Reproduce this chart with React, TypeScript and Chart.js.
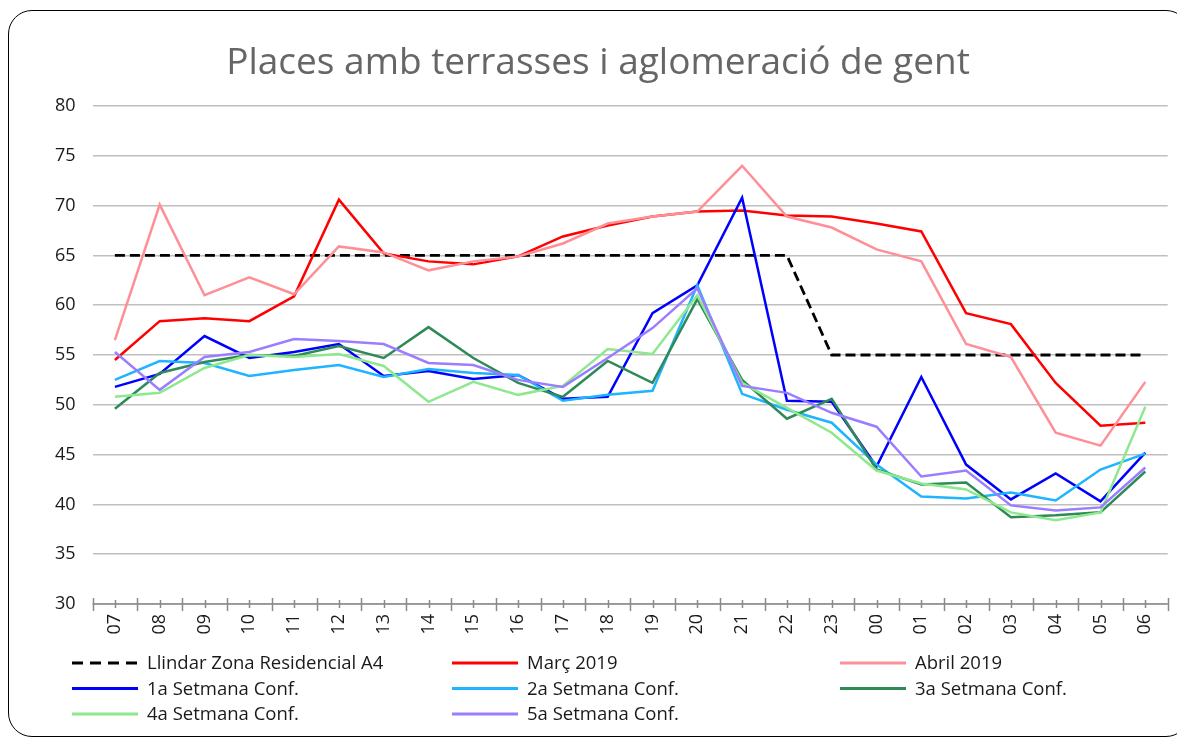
import React, { useEffect, useRef } from "react";
import { Chart, registerables } from "chart.js";

Chart.register(...registerables);

const hours = ["07", "08", "09", "10", "11", "12", "13", "14", "15", "16", "17", "18", "19", "20", "21", "22", "23", "00", "01", "02", "03", "04", "05", "06"];

const llindar = [65, 65, 65, 65, 65, 65, 65, 65, 65, 65, 65, 65, 65, 65, 65, 65, 55, 55, 55, 55, 55, 55, 55, 55];
const marc2019 = [54.5, 58.4, 58.7, 58.4, 60.9, 70.6, 65.2, 64.4, 64.1, 64.9, 66.9, 68.0, 68.9, 69.4, 69.5, 69.0, 68.9, 68.2, 67.4, 59.2, 58.1, 52.2, 47.9, 48.2];
const abril2019 = [56.5, 70.1, 61.0, 62.8, 61.1, 65.9, 65.3, 63.5, 64.4, 64.9, 66.2, 68.2, 68.9, 69.4, 74.0, 68.9, 67.8, 65.6, 64.4, 56.1, 54.8, 47.2, 45.9, 52.3];
const setmana1 = [51.8, 53.1, 56.9, 54.7, 55.3, 56.1, 52.9, 53.4, 52.6, 53.0, 50.6, 50.8, 59.2, 62.0, 70.8, 50.4, 50.3, 43.8, 52.8, 44.0, 40.5, 43.1, 40.3, 45.2];
const setmana2 = [52.5, 54.4, 54.2, 52.9, 53.5, 54.0, 52.8, 53.6, 53.2, 53.0, 50.4, 51.0, 51.4, 62.0, 51.1, 49.5, 48.2, 44.0, 40.8, 40.6, 41.2, 40.4, 43.5, 45.1];
const setmana3 = [49.6, 53.2, 54.3, 55.0, 54.9, 55.9, 54.7, 57.8, 54.7, 52.2, 50.8, 54.4, 52.2, 60.6, 52.5, 48.6, 50.6, 43.5, 42.0, 42.2, 38.7, 38.9, 39.2, 43.3];
const setmana4 = [50.8, 51.2, 53.7, 55.0, 54.8, 55.1, 53.9, 50.3, 52.3, 51.0, 51.9, 55.6, 55.1, 61.0, 52.2, 49.7, 47.2, 43.4, 42.1, 41.5, 39.2, 38.4, 39.2, 49.8];
const setmana5 = [55.3, 51.5, 54.8, 55.3, 56.6, 56.4, 56.1, 54.2, 54.0, 52.5, 51.8, 54.7, 57.7, 61.7, 51.9, 51.2, 49.2, 47.8, 42.8, 43.4, 39.9, 39.4, 39.7, 43.7];

const seriesLabels = [
  "Llindar Zona Residencial A4",
  "Març 2019",
  "Abril 2019",
  "1a Setmana Conf.",
  "2a Setmana Conf.",
  "3a Setmana Conf.",
  "4a Setmana Conf.",
  "5a Setmana Conf.",
];
const seriesData = [llindar, marc2019, abril2019, setmana1, setmana2, setmana3, setmana4, setmana5];
const seriesColors = ["#000000", "#ff0000", "#ff8f96", "#0000ff", "#1eb4ff", "#2e8b57", "#8ee88e", "#9b7dff"];

const yTicks = [30, 35, 40, 45, 50, 55, 60, 65, 70, 75, 80];

const FONT = "'Open Sans', 'Noto Sans', sans-serif";

const decorPlugin = {
  id: "decor",
  beforeDatasetsDraw(chart: any) {
    const { ctx, chartArea } = chart;
    const xs = chart.scales.x;
    const n = chart.data.labels.length;
    const w = (chartArea.right - chartArea.left) / n;
    const y = chartArea.bottom;
    ctx.save();
    ctx.strokeStyle = "#8a8a8a";
    ctx.lineWidth = 1.5;
    ctx.beginPath();
    ctx.moveTo(chartArea.left, y);
    ctx.lineTo(chartArea.right, y);
    ctx.stroke();
    for (let i = 0; i <= n; i++) {
      const x = Math.round(chartArea.left + i * w) + 0.5;
      ctx.beginPath();
      ctx.moveTo(x, y - 6);
      ctx.lineTo(x, y + 7);
      ctx.stroke();
    }
    for (let i = 0; i < n; i++) {
      const x = Math.round(xs.getPixelForValue(i)) + 0.5;
      ctx.beginPath();
      ctx.moveTo(x, y - 4);
      ctx.lineTo(x, y + 4);
      ctx.stroke();
    }
    ctx.restore();
  },
  afterDraw(chart: any) {
    const { ctx } = chart;
    ctx.save();
    ctx.fillStyle = "#666666";
    ctx.font = `37px ${FONT}`;
    ctx.textAlign = "center";
    ctx.textBaseline = "alphabetic";
    ctx.fillText("Places amb terrasses i aglomeració de gent", 598, 74);

    const cols = [72, 452, 840];
    const rows = [663, 688.5, 714];
    ctx.font = `18.5px ${FONT}`;
    ctx.textAlign = "left";
    ctx.textBaseline = "middle";
    chart.data.datasets.forEach((ds: any, i: number) => {
      const cx = cols[i % 3];
      const cy = rows[Math.floor(i / 3)];
      ctx.strokeStyle = ds.borderColor;
      ctx.lineWidth = 3;
      ctx.setLineDash(ds.borderDash && ds.borderDash.length ? [11, 7] : []);
      ctx.beginPath();
      ctx.moveTo(cx, cy);
      ctx.lineTo(cx + 66, cy);
      ctx.stroke();
      ctx.setLineDash([]);
      ctx.fillStyle = "#1a1a1a";
      ctx.fillText(ds.label, cx + 75, cy + 1);
    });
    ctx.restore();
  },
};

export default function App() {
  const ref = useRef<HTMLCanvasElement | null>(null);

  useEffect(() => {
    document.documentElement.style.overflow = "hidden";
    if (!ref.current) return;
    const chart = new Chart(ref.current, {
      type: "line",
      data: {
        labels: hours,
        datasets: seriesData.map((d, i) => ({
          label: seriesLabels[i],
          data: d,
          borderColor: seriesColors[i],
          backgroundColor: seriesColors[i],
          borderWidth: i === 0 ? 2.8 : 2.5,
          borderDash: i === 0 ? [10, 5] : [],
          pointRadius: 0,
          tension: 0,
          fill: false,
          order: seriesData.length - i,
        })),
      },
      options: {
        animation: false,
        responsive: false,
        devicePixelRatio: 1,
        layout: { padding: { top: 106, left: 0, right: 4.5, bottom: 0 } },
        plugins: {
          legend: { display: false },
          title: { display: false },
          tooltip: { enabled: false },
        },
        scales: {
          x: {
            type: "category",
            offset: true,
            grid: { display: false, drawTicks: false },
            border: { display: false },
            ticks: {
              minRotation: 90,
              maxRotation: 90,
              autoSkip: false,
              padding: 10,
              color: "#1a1a1a",
              font: { family: FONT, size: 18 },
            },
            afterFit: (s: any) => {
              s.height = 134;
            },
          },
          y: {
            min: 30,
            max: 80,
            afterBuildTicks: (s: any) => {
              s.ticks = yTicks.map((v) => ({ value: v }));
            },
            grid: { color: "#bfbfbf", lineWidth: 1.5, drawTicks: false },
            border: { display: false },
            ticks: {
              padding: 17,
              color: "#1a1a1a",
              font: { family: FONT, size: 18 },
            },
            afterFit: (s: any) => {
              s.width = 92.5;
            },
          },
        },
      },
      plugins: [decorPlugin],
    });
    return () => chart.destroy();
  }, []);

  return (
    <div>
      <div
        style={{
          position: "fixed",
          left: 8,
          top: 10,
          width: 1182,
          height: 727,
          border: "1.5px solid #000",
          borderRadius: 24,
          boxSizing: "border-box",
          background: "#fff",
        }}
      />
      <canvas
        ref={ref}
        width={1177}
        height={738}
        style={{ position: "fixed", left: 0, top: 0, width: 1177, height: 738 }}
      />
    </div>
  );
}
